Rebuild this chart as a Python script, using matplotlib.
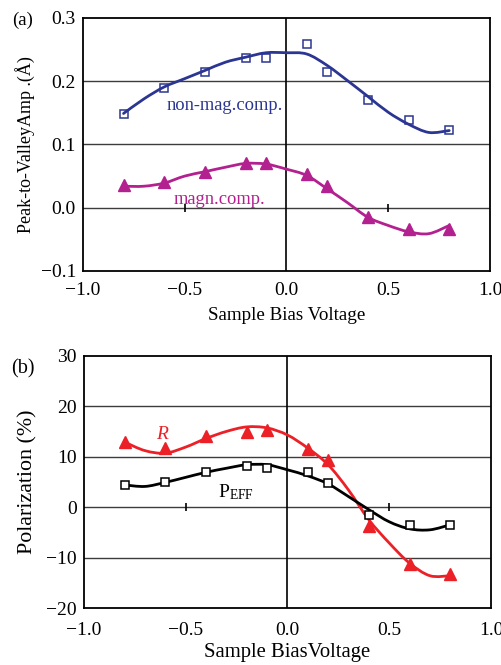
import numpy as np
import matplotlib.pyplot as plt
from matplotlib.path import Path
from matplotlib.patches import PathPatch

plt.rcParams['font.family'] = ['Liberation Serif', 'DejaVu Serif']
plt.rcParams['mathtext.fontset'] = 'custom'
plt.rcParams['mathtext.rm'] = 'Liberation Serif'
plt.rcParams['mathtext.it'] = 'Liberation Serif:italic'

# measured bias voltages
bias = [-0.8, -0.6, -0.4, -0.2, -0.1, 0.1, 0.2, 0.4, 0.6, 0.8]

# (a) amplitudes
nonmag = [0.148, 0.190, 0.215, 0.237, 0.237, 0.259, 0.215, 0.170, 0.138, 0.123]
magn = [0.036, 0.041, 0.057, 0.070, 0.070, 0.053, 0.034, -0.014, -0.034, -0.033]

# (b) polarization
pol_r = [12.9, 11.7, 14.1, 14.8, 15.2, 11.5, 9.3, -3.8, -11.3, -13.2]
pol_eff = [4.3, 4.9, 6.9, 8.2, 7.8, 6.9, 4.7, -1.5, -3.5, -3.5]

# smooth trend curves
trend_x = [-0.8, -0.7, -0.6, -0.5, -0.4, -0.3, -0.2, -0.1, 0.0,
           0.1, 0.2, 0.3, 0.4, 0.5, 0.6, 0.7, 0.8]
nonmag_fit = [0.149, 0.172, 0.191, 0.204, 0.217, 0.230, 0.238, 0.245, 0.245,
              0.243, 0.225, 0.201, 0.176, 0.151, 0.132, 0.119, 0.122]
magn_fit = [0.034, 0.034, 0.039, 0.050, 0.057, 0.064, 0.070, 0.069, 0.061,
            0.051, 0.030, 0.008, -0.015, -0.028, -0.038, -0.041, -0.028]
r_fit = [12.9, 11.2, 10.7, 11.9, 13.6, 15.0, 15.9, 15.7, 14.3,
         11.7, 8.4, 3.4, -2.5, -7.1, -11.1, -13.6, -13.6]
eff_fit = [4.4, 4.1, 4.9, 5.9, 6.9, 7.7, 8.4, 8.4, 7.4,
           6.2, 4.6, 2.1, -0.5, -2.9, -4.3, -4.5, -3.5]

BLUE = '#2b3592'
MAGENTA = '#b3208f'
RED = '#ec2027'


def smooth_line(ax, xs, ys, color, lw=2.0):
    # Catmull-Rom spline drawn as cubic Bezier segments
    pts = np.column_stack([xs, ys])
    verts = [pts[0]]
    codes = [Path.MOVETO]
    n = len(pts)
    for i in range(n - 1):
        p0 = pts[max(i - 1, 0)]
        p1 = pts[i]
        p2 = pts[i + 1]
        p3 = pts[min(i + 2, n - 1)]
        c1 = p1 + (p2 - p0) / 6.0
        c2 = p2 - (p3 - p1) / 6.0
        verts += [c1, c2, p2]
        codes += [Path.CURVE4] * 3
    ax.add_patch(PathPatch(Path(verts, codes), fill=False, edgecolor=color,
                           lw=lw, capstyle='round', joinstyle='round', zorder=3))


def style_axes(ax, ylim, yticks, fmt, xpad):
    ax.set_xlim(-1.0, 1.0)
    ax.set_ylim(*ylim)
    ax.set_xticks([-1.0, -0.5, 0.0, 0.5, 1.0])
    ax.set_xticklabels(['\u22121.0', '\u22120.5', '0.0', '0.5', '1.0'])
    ax.set_yticks(yticks)
    ax.set_yticklabels([fmt(v).replace('-', '\u2212') for v in yticks])
    ax.tick_params(length=0, labelsize=14, pad=5)
    ax.tick_params(axis='x', pad=xpad)
    for t in yticks[1:-1]:
        ax.axhline(t, color='#3c3c3c', lw=1.0, zorder=1)
    ax.axvline(0, color='black', lw=1.2, zorder=1)
    # small tick marks on the zero line
    ax.plot([-0.5, 0.5], [0, 0], ls='none', marker='|', ms=6, mew=1.2,
            color='black', zorder=1)
    for s in ax.spines.values():
        s.set_linewidth(1.3)


fig = plt.figure(figsize=(5.02, 6.65), dpi=100)

ax1 = fig.add_axes([0.165, 0.5925, 0.811, 0.3805])
style_axes(ax1, (-0.1, 0.3), [-0.1, 0.0, 0.1, 0.2, 0.3], lambda v: f'{v:.1f}', 8)
smooth_line(ax1, trend_x, nonmag_fit, BLUE)
smooth_line(ax1, trend_x, magn_fit, MAGENTA)
ax1.plot(bias, nonmag, ls='none', marker='s', ms=5.2, mfc='none', mec=BLUE,
         mew=1.1, zorder=4)
ax1.plot(bias, magn, ls='none', marker='^', ms=8.3, color=MAGENTA, zorder=4)
ax1.text(-0.305, 0.161, 'non-mag.comp.', color=BLUE, fontsize=13.3,
         ha='center', va='center')
ax1.text(-0.33, 0.013, 'magn.comp.', color=MAGENTA, fontsize=13.3,
         ha='center', va='center')
ax1.set_xlabel('Sample Bias Voltage', fontsize=13.7, labelpad=6)
ax1.set_ylabel('Peak-to-ValleyAmp .(\u00c5)', fontsize=13, labelpad=4)
fig.text(0.044, 0.969, '(a)', fontsize=13.5, ha='center', va='center')

ax2 = fig.add_axes([0.167, 0.0857, 0.811, 0.3793])
style_axes(ax2, (-20, 30), [-20, -10, 0, 10, 20, 30], lambda v: f'{v:d}', 10)
smooth_line(ax2, trend_x, r_fit, RED)
smooth_line(ax2, trend_x, eff_fit, 'black')
ax2.plot(bias, pol_eff, ls='none', marker='s', ms=5.2, mfc='white', mec='black',
         mew=1.1, zorder=4)
ax2.plot(bias, pol_r, ls='none', marker='^', ms=8.8, color=RED, zorder=4)
ax2.text(-0.61, 14.4, '$\\mathit{R}$', color=RED, fontsize=14,
         ha='center', va='center')
ax2.text(-0.34, 3.0, '$\\mathrm{P}_{\\mathrm{EFF}}$', color='black', fontsize=14,
         ha='left', va='center')
ax2.set_xlabel('Sample BiasVoltage', fontsize=14.9, labelpad=3)
ax2.set_ylabel('Polarization (%)', fontsize=15.8, labelpad=6)
fig.text(0.046, 0.446, '(b)', fontsize=14.5, ha='center', va='center')

fig.savefig('out.png', dpi=100)
